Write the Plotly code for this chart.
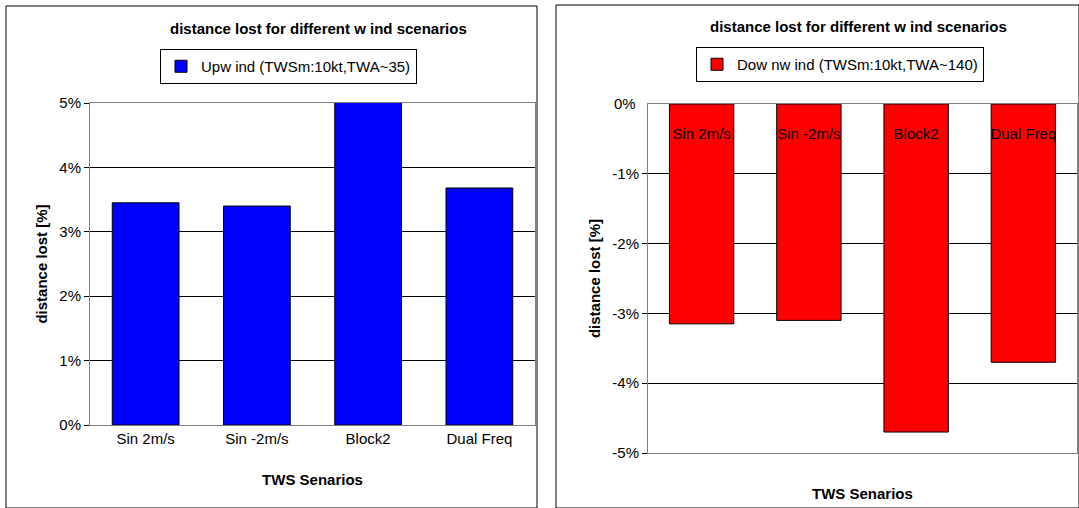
import plotly.graph_objects as go

categories = ["Sin 2m/s", "Sin -2m/s", "Block2", "Dual Freq"]
upwind = [3.45, 3.40, 5.05, 3.68]
downwind = [-3.15, -3.10, -4.70, -3.70]
up_name = "Upw ind (TWSm:10kt,TWA~35)"
down_name = "Dow nw ind (TWSm:10kt,TWA~140)"
up_ticks = [0, 1, 2, 3, 4, 5]
up_ticktext = ["0%", "1%", "2%", "3%", "4%", "5%"]
down_ticks = [0, -1, -2, -3, -4, -5]
down_ticktext = ["0%", "-1%", "-2%", "-3%", "-4%", "-5%"]
W, H = 1079, 508
F = "Liberation Sans, Arial"

fig = go.Figure()
fig.add_bar(x=categories, y=upwind, name=up_name, marker=dict(color="#0000ff", line=dict(color="black", width=1)),
            width=0.6, xaxis="x", yaxis="y", legend="legend")
fig.add_bar(x=categories, y=downwind, name=down_name, marker=dict(color="#ff0000", line=dict(color="black", width=1)),
            width=0.6, xaxis="x2", yaxis="y2", legend="legend2")

def px(x): return x / W
def py(y): return 1 - y / H

ax = dict(showline=True, linecolor="gray", mirror=True, ticks="", showgrid=False, automargin=False,
          tickfont=dict(family=F, size=15, color="black"))
yax = dict(showline=True, linecolor="gray", mirror=True, ticks="outside", ticklen=5, tickcolor="black",
           showgrid=True, gridcolor="black", gridwidth=1, zeroline=False, automargin=False,
           tickfont=dict(family=F, size=15), tickmode="array",
           title=dict(text="<b>distance lost [%]</b>", font=dict(size=15), standoff=8))
fig.update_layout(
    width=W, height=H, margin=dict(l=0, r=0, t=0, b=0, autoexpand=False), plot_bgcolor="white", paper_bgcolor="white",
    showlegend=True, font=dict(family=F, color="black"),
    xaxis=dict(domain=[px(90), px(535)], anchor="y", **ax,
               title=dict(text="<b>TWS Senarios</b>", font=dict(size=15), standoff=28)),
    yaxis=dict(domain=[py(425), py(103)], anchor="x", range=[0, 5], tickvals=up_ticks, ticktext=up_ticktext, **yax),
    xaxis2=dict(domain=[px(648), px(1077)], anchor="y2", side="top", ticklabelposition="inside",
                ticklabelstandoff=24, **ax),
    yaxis2=dict(domain=[py(453), py(104)], anchor="x2", range=[-5, 0], tickvals=down_ticks, ticktext=down_ticktext, **yax),
    legend=dict(x=px(160), y=py(49), xanchor="left", yanchor="top", bgcolor="white", bordercolor="black",
                borderwidth=1, font=dict(size=15), itemwidth=30),
    legend2=dict(x=px(696), y=py(47), xanchor="left", yanchor="top", bgcolor="white", bordercolor="black",
                 borderwidth=1, font=dict(size=15), itemwidth=30),
)
fig.add_shape(type="rect", xref="paper", yref="paper", x0=px(6), x1=px(537), y0=0, y1=py(6), line=dict(color="black", width=1))
fig.add_shape(type="rect", xref="paper", yref="paper", x0=px(556), x1=1, y0=0, y1=py(5), line=dict(color="black", width=1))
fig.add_annotation(text="<b>distance lost for different w ind scenarios</b>", xref="paper", yref="paper",
                   x=px(318), y=py(28), xanchor="center", yanchor="middle", showarrow=False, font=dict(size=15))
fig.add_annotation(text="<b>distance lost for different w ind scenarios</b>", xref="paper", yref="paper",
                   x=px(858), y=py(26), xanchor="center", yanchor="middle", showarrow=False, font=dict(size=15))
fig.add_annotation(text="<b>TWS Senarios</b>", xref="paper", yref="paper",
                   x=px(862), y=py(493), xanchor="center", yanchor="middle", showarrow=False, font=dict(size=15))
fig.add_annotation(text=down_ticktext[0], xref="paper", yref="y2", x=px(638), y=down_ticks[0],
                   xanchor="right", yanchor="middle", showarrow=False, font=dict(size=15))
fig.write_html("out.html", post_script="document.body.style.margin='0';", config={"displayModeBar": False})
